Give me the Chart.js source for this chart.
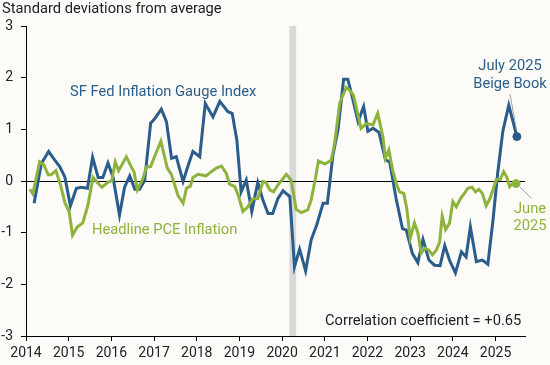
<!DOCTYPE html>
<html>
<head>
<meta charset="utf-8">
<script src="https://cdn.jsdelivr.net/npm/chart.js@4"></script>
<style>
  body { margin: 0; background: #fcfbf7; }
  canvas { display: block; }
</style>
</head>
<body>
<canvas id="myChart" width="550" height="365"></canvas>
<script>
// SF Fed Inflation Gauge Index (Beige Book dates, decimal years)
const gaugeDates = [
  2014.19, 2014.36, 2014.53, 2014.67, 2014.79, 2014.91,
  2015.04, 2015.18, 2015.30, 2015.44, 2015.56, 2015.69, 2015.80, 2015.92,
  2016.04, 2016.19, 2016.31, 2016.43, 2016.55, 2016.66, 2016.78, 2016.92,
  2017.01, 2017.17, 2017.29, 2017.41, 2017.52, 2017.68, 2017.79, 2017.91,
  2018.07, 2018.20, 2018.38, 2018.54, 2018.73, 2018.83, 2018.94,
  2019.04, 2019.16, 2019.29, 2019.43, 2019.55, 2019.67, 2019.78, 2019.90,
  2020.02, 2020.18, 2020.29, 2020.41, 2020.55, 2020.68, 2020.81, 2020.96,
  2021.06, 2021.19, 2021.31, 2021.44, 2021.54, 2021.66, 2021.78, 2021.91,
  2022.01, 2022.13, 2022.27, 2022.42, 2022.52, 2022.67, 2022.82, 2022.91,
  2023.05, 2023.18, 2023.30, 2023.44, 2023.57, 2023.70, 2023.81, 2023.92,
  2024.06, 2024.20, 2024.31, 2024.41, 2024.55, 2024.69, 2024.82, 2024.94,
  2025.05, 2025.17, 2025.31, 2025.50
]
const gaugeValues = [
  -0.43, 0.34, 0.57, 0.41, 0.28, 0.08,
  -0.48, -0.14, -0.12, -0.14, 0.46, 0.07, 0.07, 0.35,
  0.07, -0.66, -0.12, 0.10, -0.16, -0.16, 0.01, 1.12,
  1.20, 1.39, 1.15, 0.44, 0.47, -0.01, 0.28, 0.57,
  0.47, 1.50, 1.24, 1.54, 1.34, 1.31, 0.79,
  -0.21, 0.02, -0.59, -0.03, -0.37, -0.63, -0.63, -0.34,
  -0.19, -0.30, -1.66, -1.32, -1.74, -1.14, -0.85, -0.43,
  -0.43, 0.50, 0.99, 1.97, 1.97, 1.57, 1.15, 1.44,
  0.96, 1.02, 0.94, 0.41, 0.37, -0.34, -0.92, -0.95,
  -1.40, -1.58, -1.13, -1.53, -1.63, -1.64, -1.25, -1.53,
  -1.78, -1.37, -1.47, -0.89, -1.56, -1.53, -1.61, -0.76,
  0.15, 0.96, 1.47, 0.86
]

// Headline PCE inflation (monthly, decimal years)
const pceDates = [
  2014.09, 2014.16, 2014.32, 2014.42, 2014.52, 2014.59, 2014.70, 2014.81, 2014.91,
  2015.01, 2015.09, 2015.20, 2015.33, 2015.45, 2015.57, 2015.67, 2015.78, 2015.91,
  2016.01, 2016.09, 2016.17, 2016.35, 2016.48, 2016.53, 2016.61, 2016.74, 2016.82, 2016.92,
  2017.01, 2017.16, 2017.31, 2017.41, 2017.56, 2017.68, 2017.76, 2017.85, 2017.91,
  2018.03, 2018.22, 2018.34, 2018.46, 2018.58, 2018.69, 2018.77, 2018.89, 2018.97,
  2019.08, 2019.20, 2019.30, 2019.43, 2019.55, 2019.62, 2019.71, 2019.80, 2019.90,
  2020.10, 2020.21, 2020.33, 2020.45, 2020.60, 2020.68, 2020.78, 2020.85,
  2021.00, 2021.15, 2021.23, 2021.35, 2021.50, 2021.58, 2021.67, 2021.85, 2021.97,
  2022.13, 2022.24, 2022.36, 2022.42, 2022.50, 2022.59, 2022.67, 2022.75, 2022.85, 2022.92,
  2023.00, 2023.10, 2023.18, 2023.26, 2023.34, 2023.44, 2023.52, 2023.61, 2023.69, 2023.75, 2023.83, 2023.92,
  2024.00, 2024.08, 2024.18, 2024.27, 2024.35, 2024.45, 2024.53, 2024.61, 2024.69, 2024.78, 2024.87, 2024.94,
  2025.02, 2025.11, 2025.19, 2025.26, 2025.33, 2025.41, 2025.48
]
const pceValues = [
  -0.16, -0.25, 0.37, 0.31, 0.12, 0.12, 0.20, -0.08, -0.42,
  -0.59, -1.05, -0.89, -0.81, -0.47, 0.07, -0.03, -0.12, -0.03,
  0.01, 0.37, 0.20, 0.47, 0.25, 0.18, -0.17, 0.05, 0.27, 0.28,
  0.47, 0.77, 0.25, 0.12, -0.28, -0.43, -0.14, -0.10, 0.07,
  0.13, 0.10, 0.18, 0.25, 0.29, 0.15, -0.06, -0.11, -0.27,
  -0.59, -0.50, -0.35, -0.34, -0.01, -0.03, -0.17, -0.21, -0.08,
  0.13, 0.02, -0.55, -0.61, -0.56, -0.37, 0.05, 0.39,
  0.33, 0.40, 0.73, 1.51, 1.81, 1.76, 1.66, 1.02, 1.11,
  1.09, 1.31, 0.86, 0.44, 0.60, 0.21, -0.04, -0.21, -0.24, -0.53,
  -1.11, -0.81, -1.00, -1.40, -1.30, -1.34, -1.43, -1.34, -1.18, -0.68, -0.94, -0.82,
  -0.40, -0.50, -0.34, -0.24, -0.14, -0.12, -0.21, -0.16, -0.24, -0.48, -0.34, -0.17,
  0.03, 0.03, 0.18, 0.08, -0.11, -0.04, -0.05
]

const yearTicks = [2014, 2015, 2016, 2017, 2018, 2019, 2020, 2021, 2022, 2023, 2024, 2025]
const recession = [2020.17, 2020.33]

const blue = "#2b5d8c"
const green = "#8db33e"
const textColor = "#222222"
const font = "Roboto"

function toPoints(dates, values) {
  let points = []
  for (let i = 0; i < dates.length; i++) {
    points.push({ x: dates[i], y: values[i] })
  }
  return points
}

function lastOnly(count) {
  return (ctx) => (ctx.dataIndex === count - 1 ? 4 : 0)
}

const backgroundPlugin = {
  id: "bg",
  beforeDraw(chart) {
    const ctx = chart.ctx
    ctx.save()
    ctx.fillStyle = "#fcfbf7"
    ctx.fillRect(0, 0, chart.width, chart.height)
    ctx.restore()
  },
}

const bandPlugin = {
  id: "band",
  beforeDatasetsDraw(chart) {
    const ctx = chart.ctx
    const x = chart.scales.x
    const y = chart.scales.y
    const area = chart.chartArea
    ctx.save()
    ctx.fillStyle = "#d9d9d9"
    let x0 = x.getPixelForValue(recession[0])
    let x1 = x.getPixelForValue(recession[1])
    ctx.fillRect(x0, area.top, x1 - x0, area.bottom - area.top)
    // zero line
    let y0 = Math.round(y.getPixelForValue(0)) + 0.5
    ctx.strokeStyle = "#000"
    ctx.lineWidth = 1
    ctx.beginPath()
    ctx.moveTo(area.left, y0)
    ctx.lineTo(area.right, y0)
    ctx.stroke()
    ctx.restore()
  },
}

const labelsPlugin = {
  id: "labels",
  afterDraw(chart) {
    const ctx = chart.ctx
    ctx.save()
    ctx.font = "14.7px " + font
    ctx.textBaseline = "middle"

    ctx.fillStyle = textColor
    ctx.textAlign = "left"
    ctx.fillText("Standard deviations from average", 2, 9)
    ctx.fillText("Correlation coefficient = +0.65", 325, 321)

    ctx.fillStyle = blue
    ctx.fillText("SF Fed Inflation Gauge Index", 70, 92)
    ctx.textAlign = "center"
    ctx.fillText("July 2025", 510, 66)
    ctx.fillText("Beige Book", 510, 84)

    ctx.fillStyle = green
    ctx.textAlign = "left"
    ctx.fillText("Headline PCE Inflation", 92, 230)
    ctx.textAlign = "center"
    ctx.fillText("June", 530, 209)
    ctx.fillText("2025", 530, 226)

    ctx.strokeStyle = "#a0a0a0"
    ctx.lineWidth = 1
    ctx.beginPath()
    ctx.moveTo(510, 94)
    ctx.lineTo(516.5, 130)
    ctx.moveTo(520, 187)
    ctx.lineTo(531, 198)
    ctx.stroke()
    ctx.restore()
  },
}

new Chart(document.getElementById("myChart"), {
  type: "line",
  data: {
    datasets: [
      {
        label: "Headline PCE Inflation",
        data: toPoints(pceDates, pceValues),
        borderColor: green,
        backgroundColor: green,
        pointBackgroundColor: green,
        pointBorderColor: green,
        borderWidth: 3,
        pointRadius: lastOnly(pceDates.length),
        pointBorderWidth: 1,
        tension: 0,
      },
      {
        label: "SF Fed Inflation Gauge Index",
        data: toPoints(gaugeDates, gaugeValues),
        borderColor: blue,
        backgroundColor: blue,
        pointBackgroundColor: blue,
        pointBorderColor: blue,
        borderWidth: 3,
        pointRadius: lastOnly(gaugeDates.length),
        pointBorderWidth: 1,
        tension: 0,
      },
    ],
  },
  options: {
    responsive: false,
    animation: false,
    devicePixelRatio: 1,
    layout: { padding: { top: 26, right: 25, bottom: 0, left: 0 } },
    plugins: {
      legend: { display: false },
      tooltip: { enabled: false },
    },
    scales: {
      x: {
        type: "linear",
        min: 2014,
        max: 2025.69,
        afterFit(scale) { scale.height = 29 },
        afterBuildTicks(scale) {
          scale.ticks = yearTicks.map((v) => ({ value: v }))
        },
        ticks: {
          includeBounds: false,
          color: textColor,
          font: { family: font, size: 14 },
          padding: 4,
          maxRotation: 0,
          autoSkip: false,
          callback: (v) => String(v),
        },
        grid: { drawOnChartArea: false, drawTicks: true, tickLength: 5, color: "#000" },
        border: { display: true, color: "#000", width: 1 },
      },
      y: {
        min: -3,
        max: 3,
        afterFit(scale) { scale.width = 26 },
        ticks: {
          stepSize: 1,
          color: textColor,
          font: { family: font, size: 14 },
          padding: 8,
          callback: (v) => String(v),
        },
        grid: { drawOnChartArea: false, drawTicks: true, tickLength: 5, color: "#000" },
        border: { display: true, color: "#000", width: 1 },
      },
    },
  },
  plugins: [backgroundPlugin, bandPlugin, labelsPlugin],
})
</script>
</body>
</html>
